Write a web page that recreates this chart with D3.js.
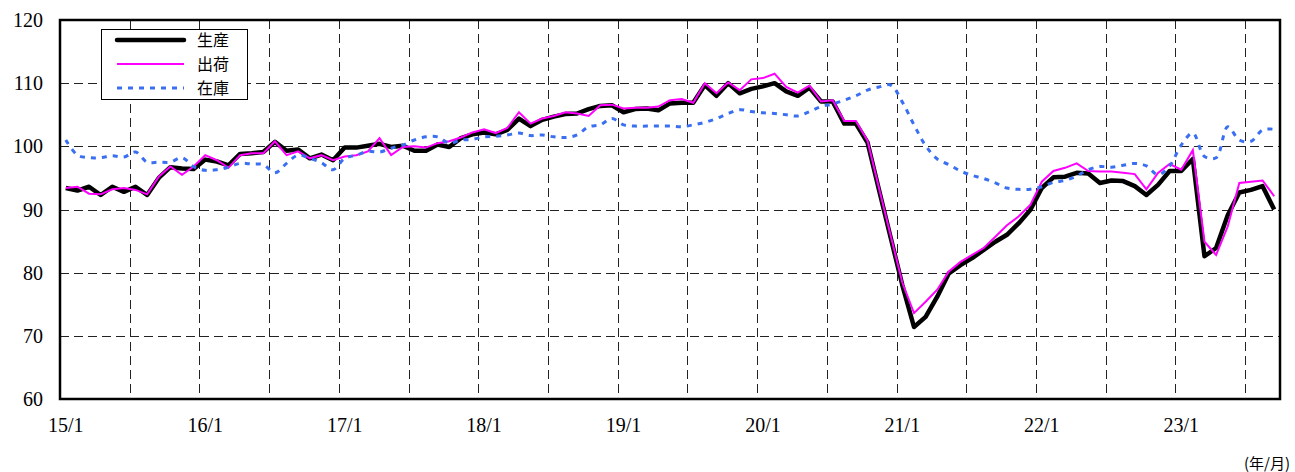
<!DOCTYPE html>
<html>
<head>
<meta charset="utf-8">
<script src="https://cdn.jsdelivr.net/npm/d3@7"></script>
<style>
  body { margin: 0; background: #fff; }
</style>
</head>
<body>
<svg id="chart" width="1295" height="472"></svg>
<script>
// monthly indices, 2015/1 .. 2023/9 (105 months)
const production = [
  93.4, 93.0, 93.6, 92.3, 93.6, 92.8, 93.6, 92.3, 95.0, 96.7, 96.5, 96.4,
  97.9, 97.6, 97.0, 98.8, 98.9, 99.1, 100.7, 99.3, 99.5, 98.1, 98.7, 97.8,
  99.8, 99.8, 100.1, 100.4, 99.9, 100.1, 99.3, 99.3, 100.3, 99.9, 101.3, 101.9,
  102.2, 101.9, 102.6, 104.4, 103.2, 104.2, 104.7, 105.1, 105.2, 105.9, 106.4, 106.5,
  105.4, 105.9, 106.0, 105.7, 106.8, 106.9, 106.9, 109.7, 108.0, 110.0, 108.4, 109.1,
  109.5, 110.0, 108.7, 108.0, 109.3, 107.1, 107.1, 103.6, 103.6, 100.6, 93.0, 85.5,
  78.0, 71.4, 73.0, 76.2, 79.9, 81.2, 82.3, 83.6, 84.9, 86.0, 87.8, 89.9,
  93.4, 95.1, 95.2, 95.8, 95.7, 94.2, 94.6, 94.5, 93.7, 92.3, 93.9, 96.1,
  96.1, 98.0, 82.6, 83.9, 89.1, 92.7, 93.1, 93.7, 90.0
];
const shipments = [
  93.4, 93.6, 92.5, 92.4, 93.2, 93.4, 93.1, 92.4, 95.2, 96.8, 95.5, 96.8,
  98.6, 97.8, 96.6, 98.6, 98.9, 98.9, 100.8, 98.6, 99.2, 98.1, 98.6, 97.8,
  98.4, 98.6, 99.2, 101.3, 98.6, 99.9, 100.0, 99.8, 100.5, 100.8, 101.4, 102.2,
  102.7, 102.1, 102.9, 105.4, 103.6, 104.4, 104.8, 105.4, 105.2, 104.8, 106.5, 106.6,
  106.0, 106.1, 106.1, 106.3, 107.3, 107.5, 106.9, 110.0, 108.4, 110.1, 108.9, 110.6,
  110.8, 111.5, 109.4, 108.5, 109.6, 107.1, 107.3, 104.0, 104.0, 100.9, 93.3, 85.8,
  78.4, 73.6, 75.4, 77.3, 80.2, 81.7, 82.8, 83.9, 85.7, 87.5, 88.9, 90.7,
  94.4, 96.1, 96.6, 97.3, 96.1, 96.0, 96.0, 95.8, 95.6, 93.2, 95.8, 97.2,
  96.3, 99.4, 84.9, 82.8, 87.3, 94.2, 94.4, 94.6, 92.1
];
const inventory = [
  101.0, 98.6, 98.2, 98.2, 98.5, 98.3, 99.1, 97.5, 97.5, 97.5, 98.2, 96.8,
  96.2, 96.3, 96.7, 97.3, 97.2, 97.1, 95.8, 97.3, 98.6, 98.1, 97.4, 96.3,
  98.1, 98.6, 99.2, 99.1, 99.7, 100.2, 101.0, 101.5, 101.5, 100.5, 101.0, 101.1,
  101.5, 101.6, 101.8, 102.1, 101.7, 101.8, 101.5, 101.4, 101.8, 103.1, 103.4, 104.4,
  103.4, 103.2, 103.2, 103.2, 103.2, 103.1, 103.4, 103.8, 104.4, 105.2, 105.8, 105.5,
  105.3, 105.2, 105.0, 104.8, 105.5, 106.3, 106.7, 107.3, 108.0, 108.9, 109.4, 109.7,
  107.0, 103.4, 100.1, 98.0, 97.1, 96.1, 95.4, 94.9, 94.2, 93.4, 93.2, 93.2,
  93.6, 94.3, 94.6, 95.3, 96.3, 96.8, 96.7, 97.0, 97.3, 96.9, 95.5, 96.9,
  100.2, 102.1, 98.4, 98.2, 103.1, 101.0, 100.8, 102.6, 102.7
];
const xTickLabels = ['15/1', '16/1', '17/1', '18/1', '19/1', '20/1', '21/1', '22/1', '23/1'];
const yTicks = [60, 70, 80, 90, 100, 110, 120];
const seriesNames = ['生産', '出荷', '在庫'];

const svg = d3.select('#chart');
const plotLeft = 60, plotRight = 1280, plotTop = 20, plotBottom = 399;
const nMonths = 105;

const x = d3.scaleLinear().domain([0, nMonths]).range([plotLeft, plotRight]);
const y = d3.scaleLinear().domain([60, 120]).range([plotBottom, plotTop]);

// grid
const grid = svg.append('g').attr('stroke', '#222').attr('stroke-width', 1)
  .attr('stroke-dasharray', '9,5').attr('shape-rendering', 'crispEdges');
grid.selectAll('.hg').data(yTicks.slice(1, -1)).enter().append('line')
  .attr('x1', plotLeft).attr('x2', plotRight)
  .attr('y1', d => Math.round(y(d)) + 0.5).attr('y2', d => Math.round(y(d)) + 0.5);
grid.selectAll('.vg').data(d3.range(6, nMonths, 6)).enter().append('line')
  .attr('y1', plotTop).attr('y2', plotBottom)
  .attr('x1', d => Math.round(x(d)) + 0.5).attr('x2', d => Math.round(x(d)) + 0.5);

// y labels
svg.append('g').selectAll('text').data(yTicks).enter().append('text')
  .attr('x', 43).attr('y', d => y(d)).attr('dy', '0.35em')
  .attr('text-anchor', 'end')
  .style('font-family', '"Liberation Serif", serif').style('font-size', '20px')
  .text(d => d);

// x labels, centred on the January point of each year
svg.append('g').selectAll('text').data(xTickLabels).enter().append('text')
  .attr('x', (d, i) => x(i * 12 + 0.5)).attr('y', 432)
  .attr('text-anchor', 'middle')
  .style('font-family', '"Liberation Serif", serif').style('font-size', '20px')
  .text(d => d);

svg.append('text').attr('x', 1290).attr('y', 469).attr('text-anchor', 'end')
  .style('font-family', '"Noto Sans CJK JP", sans-serif').style('font-size', '15px')
  .text('(年/月)');

// lines
const line = d3.line().x((d, i) => x(i + 0.5)).y(d => y(d));
const smooth = d3.line().x((d, i) => x(i + 0.5)).y(d => y(d)).curve(d3.curveCatmullRom.alpha(0.5));

svg.append('path').datum(production).attr('d', line)
  .attr('fill', 'none').attr('stroke', '#000').attr('stroke-width', 4.5).attr('stroke-linejoin', 'round');
svg.append('path').datum(shipments).attr('d', line)
  .attr('fill', 'none').attr('stroke', '#ff00ff').attr('stroke-width', 2);
svg.append('path').datum(inventory).attr('d', smooth)
  .attr('fill', 'none').attr('stroke', '#3a6ff2').attr('stroke-width', 3).attr('stroke-dasharray', '5,6');

// frame
svg.append('rect').attr('x', plotLeft).attr('y', plotTop)
  .attr('width', plotRight - plotLeft).attr('height', plotBottom - plotTop)
  .attr('fill', 'none').attr('stroke', '#000').attr('stroke-width', 2.5);

// legend
const lg = svg.append('g');
lg.append('rect').attr('x', 101.5).attr('y', 29.5).attr('width', 146).attr('height', 70)
  .attr('fill', '#fff').attr('stroke', '#000').attr('stroke-width', 1);
const legendStyles = [
  { color: '#000', width: 4.5, dash: null },
  { color: '#ff00ff', width: 2, dash: null },
  { color: '#3a6ff2', width: 3, dash: '5,6' }
];
seriesNames.forEach((name, i) => {
  const ly = 40 + i * 24;
  const st = legendStyles[i];
  lg.append('line').attr('x1', 117).attr('x2', 184).attr('y1', ly).attr('y2', ly)
    .attr('stroke', st.color).attr('stroke-width', st.width)
    .attr('stroke-dasharray', st.dash).attr('stroke-linecap', i === 0 ? 'round' : 'butt');
  lg.append('text').attr('x', 197).attr('y', ly).attr('dy', '0.35em')
    .style('font-family', '"Noto Sans CJK JP", sans-serif').style('font-size', '16px')
    .text(name);
});
</script>
</body>
</html>
